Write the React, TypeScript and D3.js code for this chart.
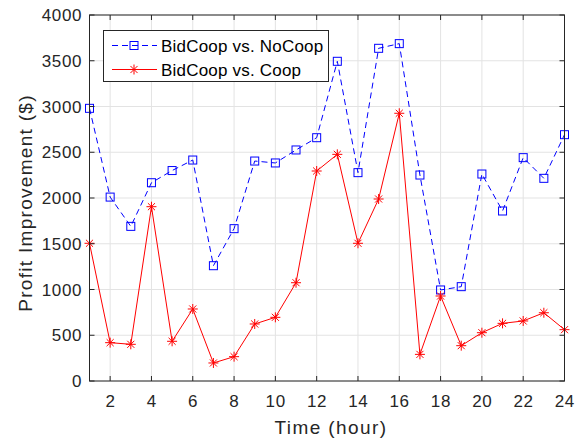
import React from "react";
import * as d3 from "d3";

const hours = d3.range(1, 25);
const noCoop = [2980, 2010, 1690, 2167, 2300, 2415, 1260, 1665, 2404, 2383, 2525, 2659, 3494, 2277, 3636, 3687, 2251, 995, 1031, 2262, 1858, 2441, 2215, 2692];
const coop = [1505, 419, 401, 1905, 434, 787, 197, 266, 623, 696, 1074, 2295, 2477, 1505, 1989, 2926, 291, 929, 386, 528, 630, 656, 746, 561];
const xTicks = [2, 4, 6, 8, 10, 12, 14, 16, 18, 20, 22, 24];
const yTicks = [0, 500, 1000, 1500, 2000, 2500, 3000, 3500, 4000];
const seriesNames = ["BidCoop vs. NoCoop", "BidCoop vs. Coop"];

const W = 585;
const H = 443;
const M = { left: 89.5, right: 564.5, top: 15, bottom: 381 };
const FONT = "'Liberation Sans', Arial, Helvetica, sans-serif";
const AXIS = "#262626";
const GRID = "#e3e3e3";

function Asterisk({ x, y, r, color }: { x: number; y: number; r: number; color: string }) {
  const d = r * Math.SQRT1_2;
  return (
    <g stroke={color} strokeWidth={1}>
      <line x1={x - r} y1={y} x2={x + r} y2={y} />
      <line x1={x} y1={y - r} x2={x} y2={y + r} />
      <line x1={x - d} y1={y - d} x2={x + d} y2={y + d} />
      <line x1={x - d} y1={y + d} x2={x + d} y2={y - d} />
    </g>
  );
}

export default function App() {
  const x = d3.scaleLinear().domain([1, 24]).range([M.left, M.right]);
  const y = d3.scaleLinear().domain([0, 4000]).range([M.bottom, M.top]);
  const line = d3
    .line<number>()
    .x((_, i) => x(hours[i]))
    .y((v) => y(v));

  const sq = 4;
  const tick = 5;

  return (
    <svg width={W} height={H} style={{ position: "absolute", left: 0, top: 0, background: "#fff" }} fontFamily={FONT}>
      <rect width={W} height={H} fill="#fff" />
      {/* grid */}
      {xTicks.map((t) => (
        <line key={"gx" + t} x1={x(t)} x2={x(t)} y1={M.top} y2={M.bottom} stroke={GRID} strokeWidth={1} />
      ))}
      {yTicks.map((t) => (
        <line key={"gy" + t} x1={M.left} x2={M.right} y1={y(t)} y2={y(t)} stroke={GRID} strokeWidth={1} />
      ))}

      {/* series */}
      <path d={line(noCoop) || ""} fill="none" stroke="#0000ff" strokeWidth={1} strokeDasharray="6,4" />
      {noCoop.map((v, i) => (
        <rect key={"s" + i} x={x(hours[i]) - sq} y={y(v) - sq} width={sq * 2} height={sq * 2} fill="none" stroke="#0000ff" strokeWidth={1} />
      ))}
      <path d={line(coop) || ""} fill="none" stroke="#ff0000" strokeWidth={1} />
      {coop.map((v, i) => (
        <Asterisk key={"a" + i} x={x(hours[i])} y={y(v)} r={5} color="#ff0000" />
      ))}

      {/* axes box */}
      <rect x={M.left} y={M.top} width={M.right - M.left} height={M.bottom - M.top} fill="none" stroke={AXIS} strokeWidth={1} />
      {xTicks.map((t) => (
        <g key={"tx" + t}>
          <line x1={x(t)} x2={x(t)} y1={M.bottom} y2={M.bottom - tick} stroke={AXIS} />
          <line x1={x(t)} x2={x(t)} y1={M.top} y2={M.top + tick} stroke={AXIS} />
          <text x={x(t) + 0.3} y={407} textAnchor="middle" fontSize={17} letterSpacing={0.6} fill={AXIS}>
            {t}
          </text>
        </g>
      ))}
      {yTicks.map((t) => (
        <g key={"ty" + t}>
          <line x1={M.left} x2={M.left + tick} y1={y(t)} y2={y(t)} stroke={AXIS} />
          <line x1={M.right} x2={M.right - tick} y1={y(t)} y2={y(t)} stroke={AXIS} />
          <text x={82} y={y(t)} dy="0.36em" textAnchor="end" fontSize={17} letterSpacing={0.6} fill={AXIS}>
            {t}
          </text>
        </g>
      ))}

      {/* axis labels */}
      <text x={331} y={434} textAnchor="middle" fontSize={19} letterSpacing={1.4} fill={AXIS}>
        Time (hour)
      </text>
      <text
        transform={`translate(32,203) rotate(-90)`}
        textAnchor="middle"
        fontSize={19}
        letterSpacing={1.3}
        fill={AXIS}
      >
        Profit Improvement ($)
      </text>

      {/* legend */}
      <rect x={103.5} y={30.5} width={225} height={51} fill="#fff" stroke={AXIS} strokeWidth={1} />
      <line x1={112} x2={157} y1={45.5} y2={45.5} stroke="#0000ff" strokeDasharray="6,4" />
      <rect x={134 - sq} y={45.5 - sq} width={sq * 2} height={sq * 2} fill="none" stroke="#0000ff" />
      <text x={161} y={45.5} dy="0.36em" fontSize={17} letterSpacing={0.2} fill="#000">
        {seriesNames[0]}
      </text>
      <line x1={112} x2={157} y1={69.5} y2={69.5} stroke="#ff0000" />
      <Asterisk x={134} y={69.5} r={5} color="#ff0000" />
      <text x={161} y={69.5} dy="0.36em" fontSize={17} letterSpacing={0.2} fill="#000">
        {seriesNames[1]}
      </text>
    </svg>
  );
}
